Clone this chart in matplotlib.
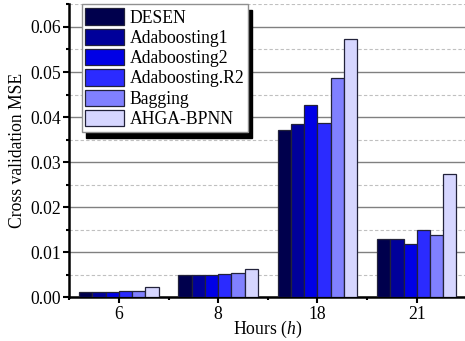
import matplotlib
matplotlib.use("Agg")
import matplotlib.pyplot as plt
import numpy as np
from matplotlib.ticker import MultipleLocator, FormatStrFormatter

plt.rcParams["font.family"] = ["Liberation Serif", "DejaVu Serif"]
plt.rcParams["mathtext.fontset"] = "custom"
plt.rcParams["mathtext.it"] = "Liberation Serif:italic"
plt.rcParams["mathtext.rm"] = "Liberation Serif"

hours = ["6", "8", "18", "21"]
models = ["DESEN", "Adaboosting1", "Adaboosting2", "Adaboosting.R2", "Bagging", "AHGA-BPNN"]
mse = {
    "DESEN":          [0.0012, 0.0050, 0.0371, 0.0130],
    "Adaboosting1":   [0.0011, 0.0050, 0.0384, 0.0130],
    "Adaboosting2":   [0.0011, 0.0050, 0.0427, 0.0119],
    "Adaboosting.R2": [0.0013, 0.0051, 0.0388, 0.0150],
    "Bagging":        [0.0013, 0.0053, 0.0486, 0.0138],
    "AHGA-BPNN":      [0.0023, 0.0064, 0.0573, 0.0273],
}
colors = ["#00004d", "#00009a", "#0000e6", "#2b2bff", "#8080ff", "#d6d6ff"]

FS = 12.7

fig = plt.figure(figsize=(4.65, 3.41), dpi=100)
ax = fig.add_axes([0.149, 0.128, 0.854, 0.859])

x = np.arange(len(hours))
w = 0.8 / len(models)
for i, m in enumerate(models):
    ax.bar(x - 0.4 + w * (i + 0.5), mse[m], width=w, color=colors[i],
           edgecolor="#22223a", linewidth=0.9, label=m, zorder=3)

ax.set_xlim(-0.5, 3.5)
ax.set_ylim(0, 0.065)
ax.set_xticks(x)
ax.set_xticklabels(hours)
ax.set_xticks(np.arange(-0.5, 3.6, 1), minor=True)
ax.yaxis.set_major_locator(MultipleLocator(0.01))
ax.yaxis.set_minor_locator(MultipleLocator(0.005))
ax.yaxis.set_major_formatter(FormatStrFormatter("%.2f"))
ax.grid(axis="y", which="major", color="#808080", lw=1.0, zorder=0)
ax.grid(axis="y", which="minor", color="#c0c0c0", lw=0.8, ls=(0, (3, 2)), zorder=0)

for s in ["top", "right"]:
    ax.spines[s].set_visible(False)
for s in ["left", "bottom"]:
    ax.spines[s].set_linewidth(1.8)
ax.tick_params(axis="both", which="major", direction="out", length=4, width=1.5,
               labelsize=FS, pad=2)
ax.tick_params(axis="both", which="minor", direction="out", length=2.5, width=1.5)

ax.set_ylabel("Cross validation MSE", fontsize=FS, labelpad=3)
ax.set_xlabel(r"Hours ($\mathit{h}$)", fontsize=FS, labelpad=-3)

leg = ax.legend(loc="upper left", bbox_to_anchor=(0.031, 1.0), borderaxespad=0,
                fontsize=FS, handlelength=2.2, handleheight=1.05, labelspacing=0.12,
                handletextpad=0.3, borderpad=0.22, fancybox=False, framealpha=1,
                edgecolor="#909090",
                shadow={"ox": 3, "oy": -4, "color": "black", "alpha": 1})
leg.get_frame().set_linewidth(1.0)
leg.set_zorder(5)

fig.savefig("out.png", dpi=100, facecolor="white")
